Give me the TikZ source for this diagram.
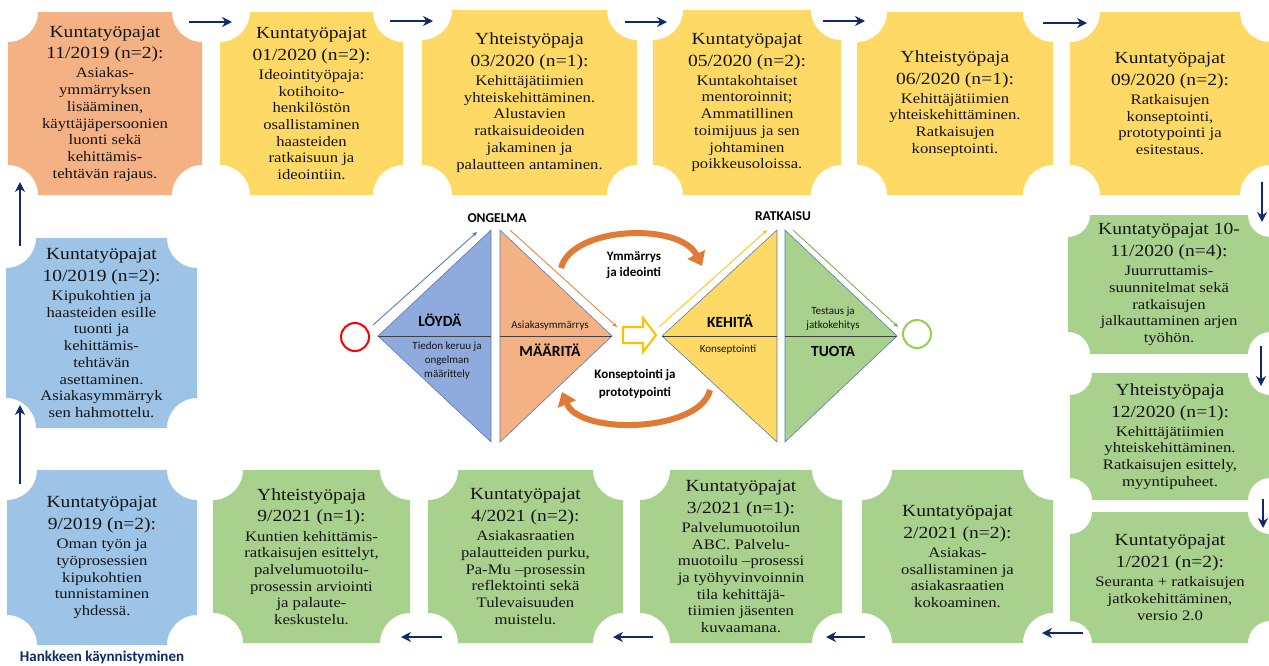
\documentclass[tikz,border=0pt]{standalone}
\usepackage{fontspec}
\setmainfont{Liberation Serif}[FakeStretch=1.15]
\newfontfamily\calfont{Carlito}
\usetikzlibrary{arrows.meta,calc}
\definecolor{bOrange}{HTML}{F4B183}
\definecolor{bYellow}{HTML}{FFD966}
\definecolor{bGreen}{HTML}{A9D18E}
\definecolor{bBlue}{HTML}{9DC3E6}
\definecolor{tBlue}{HTML}{8FAADC}
\definecolor{navy}{HTML}{0F2A6B}
\definecolor{txt}{HTML}{141414}
\definecolor{edge}{HTML}{5A7AB0}
\definecolor{arcOr}{HTML}{E07A34}
\definecolor{lnBlue}{HTML}{4472C4}
\definecolor{lnOr}{HTML}{ED7D31}
\definecolor{lnYe}{HTML}{FFC000}
\definecolor{lnGr}{HTML}{70AD47}
\definecolor{cGreen}{HTML}{92D050}
\newcommand\ttl[2]{{\fontsize{17}{20}\selectfont #1}\\[5pt]{\fontsize{17}{20}\selectfont #2}\\[2.5pt]}
\newcommand\plq[8]{%
  \fill[#6] ({#2+#7},#3) -- ({#4-#7},#3) arc[start angle=180,end angle=270,radius=#7pt]
    -- (#4,{#5-#7}) arc[start angle=90,end angle=180,radius=#7pt]
    -- ({#2+#7},#5) arc[start angle=0,end angle=90,radius=#7pt]
    -- (#2,{#3+#7}) arc[start angle=270,end angle=360,radius=#7pt] -- cycle;
  \node[boxtext] (#1) at ({(#2+#4)/2},{(#3+#5)/2}) {#8};
}
\begin{document}
\begin{tikzpicture}[x=1pt,y=-1pt,
  boxtext/.style={align=center,text=txt,inner sep=0pt,font=\fontsize{14.5}{16.7}\selectfont},
  flow/.style={draw=navy,line width=2.8pt,-{Stealth[length=10pt,width=10pt]}},
  thin/.style={line width=0.8pt,-{Stealth[length=5pt,width=4pt]}},
  tri/.style={draw=edge,line width=0.6pt},
  lbl/.style={font=\calfont\bfseries\fontsize{13.5}{15}\selectfont,text=black,align=center,inner sep=0pt},
  small/.style={font=\calfont\fontsize{11}{14}\selectfont,text=txt,align=center,inner sep=0pt},
  big/.style={font=\calfont\bfseries\fontsize{15.5}{17}\selectfont,text=black,inner sep=0pt},
  arcarrow/.style={draw=arcOr,line width=6pt,-{Triangle[length=13pt,width=19pt]}}]
\useasboundingbox (0,0) rectangle (1269,665);
\fill[white] (0,0) rectangle (1269,665);

% ---- top row
\plq{b1}{8}{12}{202}{195}{bOrange}{30}{\ttl{Kuntatyöpajat}{11/2019 (n=2):}Asiakas-\\ymmärryksen\\lisääminen,\\käyttäjäpersoonien\\luonti sekä\\kehittämis-\\tehtävän rajaus.}
\plq{b2}{220}{12}{403}{195}{bYellow}{30}{\ttl{Kuntatyöpajat}{01/2020 (n=2):}Ideointityöpaja:\\kotihoito-\\henkilöstön\\osallistaminen\\haasteiden\\ratkaisuun ja\\ideointiin.}
\plq{b3}{422}{10}{637}{195}{bYellow}{30}{\ttl{Yhteistyöpaja}{03/2020 (n=1):}Kehittäjätiimien\\yhteiskehittäminen.\\Alustavien\\ratkaisuideoiden\\jakaminen ja\\palautteen antaminen.}
\plq{b4}{653}{10}{841}{195}{bYellow}{30}{\ttl{Kuntatyöpajat}{05/2020 (n=2):}Kuntakohtaiset\\mentoroinnit;\\Ammatillinen\\toimijuus ja sen\\johtaminen\\poikkeusoloissa.}
\plq{b5}{857}{12}{1053}{195}{bYellow}{30}{\ttl{Yhteistyöpaja}{06/2020 (n=1):}Kehittäjätiimien\\yhteiskehittäminen.\\Ratkaisujen\\konseptointi.}
\plq{b6}{1070}{12}{1270}{195}{bYellow}{30}{\ttl{Kuntatyöpajat}{09/2020 (n=2):}Ratkaisujen\\konseptointi,\\prototypointi ja\\esitestaus.}
% ---- right column
\plq{b7}{1068}{215}{1270}{354}{bGreen}{22}{\ttl{Kuntatyöpajat 10-}{11/2020 (n=4):}Juurruttamis-\\suunnitelmat sekä\\ratkaisujen\\jalkauttaminen arjen\\työhön.}
\plq{b8}{1070}{373}{1270}{500}{bGreen}{22}{\ttl{Yhteistyöpaja}{12/2020 (n=1):}Kehittäjätiimien\\yhteiskehittäminen.\\Ratkaisujen esittely,\\myyntipuheet.}
\plq{b9}{1070}{512}{1270}{643}{bGreen}{22}{\ttl{Kuntatyöpajat}{1/2021 (n=2):}Seuranta + ratkaisujen\\jatkokehittäminen,\\versio 2.0}
% ---- bottom row
\plq{b10}{862}{470}{1053}{643}{bGreen}{30}{\ttl{Kuntatyöpajat}{2/2021 (n=2):}Asiakas-\\osallistaminen ja\\asiakasraatien\\kokoaminen.}
\plq{b11}{640}{470}{842}{643}{bGreen}{30}{\ttl{Kuntatyöpajat}{3/2021 (n=1):}Palvelumuotoilun\\ABC. Palvelu-\\muotoilu –prosessi\\ja työhyvinvoinnin\\tila kehittäjä-\\tiimien jäsenten\\kuvaamana.}
\plq{b12}{428}{470}{623}{643}{bGreen}{30}{\ttl{Kuntatyöpajat}{4/2021 (n=2):}Asiakasraatien\\palautteiden purku,\\Pa-Mu –prosessin\\reflektointi sekä\\Tulevaisuuden\\muistelu.}
\plq{b13}{213}{470}{410}{643}{bGreen}{30}{\ttl{Yhteistyöpaja}{9/2021 (n=1):}Kuntien kehittämis-\\ratkaisujen esittelyt,\\palvelumuotoilu-\\prosessin arviointi\\ja palaute-\\keskustelu.}
\plq{b14}{7}{470}{197}{645}{bBlue}{30}{\ttl{Kuntatyöpajat}{9/2019 (n=2):}Oman työn ja\\työprosessien\\kipukohtien\\tunnistaminen\\yhdessä.}
% ---- left column
\plq{b15}{6}{238}{197}{428}{bBlue}{30}{\ttl{Kuntatyöpajat}{10/2019 (n=2):}Kipukohtien ja\\haasteiden esille\\tuonti ja\\kehittämis-\\tehtävän\\asettaminen.\\Asiakasymmärryk\\sen hahmottelu.}

\node[font=\calfont\bfseries\fontsize{15}{17}\selectfont,text=navy,inner sep=0pt] (start) at (102,657) {Hankkeen käynnistyminen};

% ---- flow arrows
\coordinate (a1s) at (189,22);   \coordinate (a1e) at (232,22);
\coordinate (a2s) at (390,21);   \coordinate (a2e) at (433,21);
\coordinate (a3s) at (625,22);   \coordinate (a3e) at (667,22);
\coordinate (a4s) at (823,21);   \coordinate (a4e) at (865,21);
\coordinate (a5s) at (1043,23);  \coordinate (a5e) at (1087,23);
\coordinate (a6s) at (1262,182); \coordinate (a6e) at (1262,222);
\coordinate (a7s) at (1261,346); \coordinate (a7e) at (1261,386);
\coordinate (a8s) at (1263,499); \coordinate (a8e) at (1263,528);
\coordinate (a9s) at (1083,633); \coordinate (a9e) at (1042,633);
\coordinate (a10s) at (865,637); \coordinate (a10e) at (826,637);
\coordinate (a11s) at (653,637); \coordinate (a11e) at (613,637);
\coordinate (a12s) at (442,637); \coordinate (a12e) at (401,637);
\coordinate (a13s) at (20,484);  \coordinate (a13e) at (20,405);
\coordinate (a14s) at (20,246);  \coordinate (a14e) at (20,182);
\foreach \i in {1,...,14} {\draw[flow] (a\i s) -- (a\i e);}

% ---- double diamond
\fill[tBlue] (378,336) -- (491,230) -- (491,442) -- cycle;
\draw[tri] (378,336) -- (491,230) -- (491,442) -- cycle;
\fill[bOrange] (500,230) -- (612,336) -- (500,442) -- cycle;
\draw[tri] (500,230) -- (612,336) -- (500,442) -- cycle;
\fill[bYellow] (662,336) -- (777,230) -- (777,442) -- cycle;
\draw[tri] (662,336) -- (777,230) -- (777,442) -- cycle;
\fill[bGreen] (785,230) -- (897,336) -- (785,442) -- cycle;
\draw[tri] (785,230) -- (897,336) -- (785,442) -- cycle;
\draw[line width=0.8pt,black!75] (378,336) -- (491,336) (500,336) -- (612,336)
  (662,336) -- (777,336) (785,336) -- (897,336);

\node[circle,draw=red,line width=2pt,minimum size=28pt,inner sep=0pt] (c0) at (355,337) {};
\node[circle,draw=cGreen,line width=2pt,minimum size=28pt,inner sep=0pt] (c1) at (917,334) {};

\draw[thin,draw=lnBlue] (373,325) -- (477,232);
\draw[thin,draw=lnOr] (510,230) -- (617,327);
\draw[thin,draw=lnYe] (659,327) -- (767,230);
\draw[thin,draw=lnGr] (793,230) -- (898,327);

% hollow block arrow
\draw[lnYe,line width=2pt,line join=miter,fill=white] (623,327) -- (643,327) -- (643,318) -- (656,335) -- (643,352) -- (643,343) -- (623,343) -- cycle;

% curved arrows
\draw[arcarrow] (561,268) .. controls (572,226) and (680,222) .. (702,266);
\draw[arcarrow] (710,390) .. controls (700,432) and (580,436) .. (562,392);

\node[lbl] (ong) at (497,218) {ONGELMA};
\node[lbl] (rat) at (783,216) {RATKAISU};
\node[big] (loy) at (440,320) {LÖYDÄ};
\node[big] (maa) at (550,350) {MÄÄRITÄ};
\node[big] (keh) at (730,321) {KEHITÄ};
\node[big] (tuo) at (833,351) {TUOTA};
\node[small] (tied) at (447,361) {Tiedon keruu ja\\ongelman\\määrittely};
\node[small] (asi) at (550,326) {Asiakasymmärrys};
\node[small] (kon) at (728,350) {Konseptointi};
\node[small] (tes) at (833,319) {Testaus ja\\jatkokehitys};
\node[lbl,font=\calfont\bfseries\fontsize{13}{16}\selectfont] (ymm) at (634,265) {Ymmärrys\\ja ideointi};
\node[lbl,font=\calfont\bfseries\fontsize{13}{18}\selectfont] (kpt) at (635,384) {Konseptointi ja\\prototypointi};
\end{tikzpicture}
\end{document}
